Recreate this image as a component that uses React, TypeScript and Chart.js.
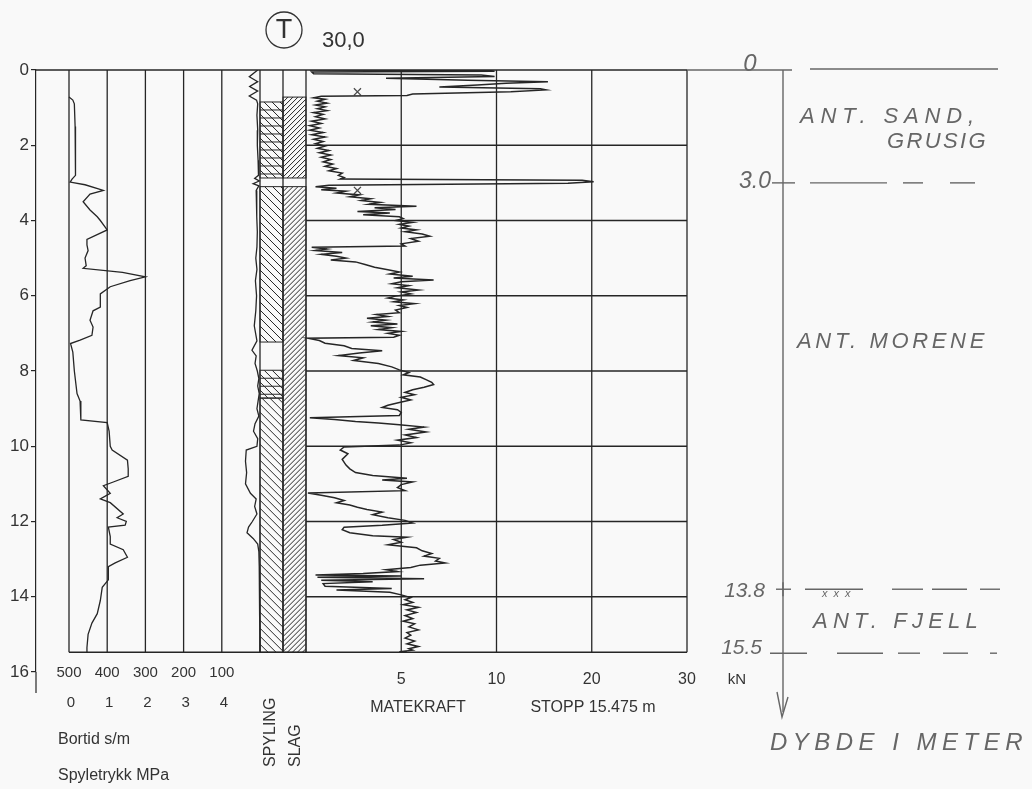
import React, { useEffect, useRef } from 'react';
import { Chart, registerables } from 'chart.js';

Chart.register(...registerables);

// ---------------- data ----------------
const depthTicks = [0, 2, 4, 6, 8, 10, 12, 14, 16];
const stopDepth = 15.475;
const spyTicks = [0, 1, 2, 3, 4];
const borTicks = [500, 400, 300, 200, 100];
const matTicks = [5, 10, 20, 30];
const matGridDepths = [2, 4, 6, 8, 10, 12, 14];

// Spyletrykk (MPa) vs depth (m)
const spyDepth = [
  0.72, 0.8, 0.9, 1.5, 2.2, 2.8, 2.9, 2.98, 3.05, 3.2,
  3.3, 3.5, 3.72, 3.9, 4.0, 4.25, 4.5, 4.65, 4.8, 5.0,
  5.2, 5.27, 5.38, 5.5, 5.6, 5.76, 5.95, 6.3, 6.4, 6.65,
  6.83, 7.05, 7.18, 7.27, 7.5, 8.0, 8.6, 8.8, 9.3, 9.37,
  9.6, 10.0, 10.1, 10.37, 10.6, 10.8, 10.95, 11.05, 11.25, 11.4,
  11.5, 11.8, 11.9, 12.0, 12.1, 12.15, 12.4, 12.6, 12.75, 12.95,
  13.1, 13.2, 13.55, 13.75, 14.1, 14.45, 14.7, 15.0, 15.35, 15.475,
];
const spyPressure = [
  0.0, 0.1, 0.14, 0.16, 0.18, 0.16, 0.08, 0.03, 0.42, 0.9,
  0.55, 0.37, 0.55, 0.74, 0.82, 1.0, 0.47, 0.47, 0.5, 0.42,
  0.45, 0.37, 1.4, 2.0, 1.6, 1.08, 0.82, 0.82, 0.63, 0.55,
  0.63, 0.6, 0.29, 0.04, 0.1, 0.14, 0.21, 0.29, 0.31, 1.0,
  1.05, 1.08, 1.13, 1.53, 1.55, 1.55, 1.16, 0.9, 1.08, 0.82,
  1.08, 1.42, 1.26, 1.5, 1.47, 1.03, 1.08, 1.08, 1.42, 1.53,
  1.21, 1.03, 1.03, 0.87, 0.82, 0.74, 0.6, 0.5, 0.47, 0.47,
];

// Bortid (s/m) vs depth (m)
const borDepth = [
  0.0, 0.18, 0.31, 0.44, 0.56, 0.69, 0.8, 0.9, 1.2, 1.6,
  2.0, 2.4, 2.8, 2.88, 2.95, 3.02, 3.08, 3.2, 3.5, 3.9,
  4.3, 4.7, 5.0, 5.3, 5.6, 6.0, 6.4, 6.8, 7.2, 7.45,
  7.6, 7.8, 8.0, 8.2, 8.4, 8.6, 8.8, 9.0, 9.2, 9.4,
  9.6, 9.8, 10.0, 10.1, 10.4, 10.7, 11.0, 11.25, 11.4, 11.6,
  11.8, 12.0, 12.15, 12.3, 12.45, 12.6, 12.8, 13.2, 13.6, 14.0,
  14.5, 15.0, 15.475,
];
const borTime = [
  6, 28, 6, 27, 6, 28, 9, 6, 8, 6,
  7, 5, 4, 14, 2, 18, 3, 10, 8, 9,
  7, 8, 11, 8, 12, 9, 11, 15, 8, 21,
  10, 13, 7, 3, 6, 2, 5, 8, 3, 13,
  17, 6, 8, 36, 38, 35, 38, 25, 10, 14,
  8, 20, 30, 34, 18, 6, 3, 2, 1, 1,
  1, 0, 0,
];

// Matekraft (kN) vs depth (m)
const matDepth = [
  0.0, 0.01, 0.03, 0.05, 0.1, 0.13, 0.17, 0.22, 0.27, 0.31,
  0.35, 0.4, 0.45, 0.5, 0.53, 0.58, 0.64, 0.68, 0.7, 0.74,
  0.78, 0.83, 0.88, 0.93, 0.98, 1.03, 1.08, 1.13, 1.18, 1.24,
  1.3, 1.36, 1.42, 1.48, 1.54, 1.6, 1.66, 1.72, 1.78, 1.84,
  1.9, 1.96, 2.02, 2.08, 2.14, 2.2, 2.26, 2.32, 2.38, 2.44,
  2.5, 2.56, 2.62, 2.68, 2.74, 2.8, 2.86, 2.9, 2.93, 2.97,
  3.01, 3.06, 3.1, 3.14, 3.18, 3.22, 3.27, 3.32, 3.37, 3.42,
  3.47, 3.52, 3.57, 3.62, 3.66, 3.71, 3.76, 3.8, 3.85, 3.9,
  3.95, 4.0, 4.05, 4.1, 4.15, 4.2, 4.25, 4.3, 4.36, 4.42,
  4.48, 4.55, 4.62, 4.68, 4.71, 4.76, 4.8, 4.85, 4.9, 4.95,
  5.0, 5.05, 5.1, 5.17, 5.24, 5.31, 5.37, 5.42, 5.48, 5.53,
  5.58, 5.63, 5.68, 5.73, 5.79, 5.85, 5.9, 5.95, 6.01, 6.06,
  6.11, 6.16, 6.21, 6.26, 6.31, 6.38, 6.45, 6.5, 6.55, 6.6,
  6.65, 6.7, 6.75, 6.8, 6.85, 6.9, 6.95, 7.0, 7.05, 7.1,
  7.13, 7.19, 7.26, 7.33, 7.4, 7.46, 7.52, 7.59, 7.65, 7.72,
  7.8, 7.89, 7.97, 8.04, 8.1, 8.16, 8.23, 8.3, 8.36, 8.43,
  8.5, 8.57, 8.63, 8.7, 8.77, 8.84, 8.91, 8.97, 9.03, 9.1,
  9.18, 9.24, 9.29, 9.34, 9.38, 9.43, 9.49, 9.55, 9.62, 9.7,
  9.77, 9.84, 9.91, 9.97, 10.02, 10.1, 10.2, 10.35, 10.5, 10.6,
  10.7, 10.78, 10.85, 10.9, 10.95, 11.02, 11.1, 11.18, 11.24, 11.3,
  11.37, 11.44, 11.5, 11.56, 11.62, 11.68, 11.75, 11.82, 11.9, 11.97,
  12.04, 12.1, 12.15, 12.22, 12.3, 12.38, 12.42, 12.48, 12.55, 12.62,
  12.7, 12.78, 12.85, 12.92, 12.98, 13.05, 13.1, 13.16, 13.22, 13.28,
  13.33, 13.38, 13.42, 13.45, 13.48, 13.52, 13.56, 13.6, 13.65, 13.72,
  13.78, 13.82, 13.88, 13.95, 14.02, 14.08, 14.15, 14.21, 14.28, 14.35,
  14.42, 14.5, 14.58, 14.65, 14.72, 14.8, 14.88, 14.95, 15.02, 15.1,
  15.18, 15.25, 15.32, 15.38, 15.42, 15.46, 15.475,
];
const matForce = [
  0.2, 9.6, 9.9, 0.3, 0.4, 9.2, 9.9, 4.2, 8.5, 15.4,
  11.0, 9.0, 7.0, 14.6, 15.2, 11.5, 5.6, 5.3, 0.8, 0.4,
  1.0, 0.6, 1.1, 0.5, 1.0, 0.6, 1.1, 0.4, 0.9, 0.5,
  1.0, 0.3, 0.8, 0.2, 0.7, 0.2, 0.9, 0.3, 1.0, 0.4,
  0.9, 0.5, 1.0, 0.6, 1.2, 0.7, 1.3, 0.8, 1.3, 0.9,
  1.4, 1.0, 1.6, 1.2, 1.9, 1.7, 2.0, 1.8, 19.0, 20.2,
  17.5, 1.2, 0.5, 1.6, 0.8, 2.1, 1.6, 2.8, 2.3, 3.4,
  2.9, 3.9, 3.3, 5.8, 3.6, 4.7, 2.7, 4.4, 3.0, 4.9,
  5.1, 4.7, 5.6, 4.9, 5.4, 5.0, 5.8, 5.2, 6.1, 6.5,
  5.5, 5.9, 5.0, 5.2, 0.3, 1.1, 0.5, 1.9, 0.8, 1.6,
  2.1, 1.3, 2.6, 3.1, 3.6, 4.3, 4.9, 4.4, 5.6, 4.6,
  6.7, 5.0, 4.5, 5.4, 4.8, 5.9, 5.0, 5.5, 4.7, 4.3,
  5.1, 4.6, 5.7, 4.9, 5.3, 4.7, 4.9, 3.7, 4.3, 3.2,
  4.2, 3.5, 4.8, 3.4, 4.5, 3.8, 5.0, 4.3, 4.9, 4.6,
  0.1, 0.7, 1.0, 2.0, 2.4, 4.0, 2.8, 1.7, 3.0, 2.5,
  3.8, 4.5, 4.9, 5.4, 5.1, 6.0, 6.3, 6.6, 6.7, 6.2,
  5.6, 5.2, 5.7, 5.0, 5.5, 4.9, 4.3, 4.0, 4.8, 5.0,
  4.9, 0.2, 1.5, 2.6, 3.8, 4.9, 6.2, 5.4, 6.3, 5.2,
  5.8, 4.8, 5.5, 4.9, 2.0, 1.8, 2.2, 1.9, 2.1, 2.3,
  2.6, 3.5, 5.3, 4.0, 5.6, 5.0, 4.8, 5.2, 0.1, 0.8,
  1.5, 2.0, 1.6, 2.3, 2.7, 3.2, 4.0, 3.5, 4.3, 5.2,
  5.6, 4.0, 2.0, 1.9, 2.3, 3.5, 5.3, 4.6, 5.0, 4.3,
  5.8, 6.1, 6.6, 6.2, 7.0, 6.8, 7.3, 6.0, 5.5, 4.2,
  4.8, 3.0, 0.5, 5.0, 0.6, 6.2, 0.8, 3.5, 0.9, 1.0,
  4.5, 1.6, 4.4, 5.0, 5.5, 5.2, 5.6, 5.1, 5.9, 5.3,
  5.8, 5.2, 5.6, 5.1, 5.7, 5.4, 5.9, 5.3, 5.5, 5.2,
  5.7, 5.3, 5.9, 5.4, 5.6, 4.9, 5.3,
];

// "X" marks on the Matekraft curve
const markDepth = [0.58, 3.2];
const markForce = [2.7, 2.7];

// SPYLING / SLAG column intervals (depth from, to)
const spylingCross = [[0.85, 2.87], [7.98, 8.72]];
const spylingDiag = [[3.1, 7.23], [8.72, stopDepth]];
const slagDiag = [[0.72, 2.87], [3.1, stopDepth]];

// ---------------- layout / style ----------------
const W = 1032;
const H = 789;
const AREA_LEFT = 36;
const AREA_RIGHT = 687;
const AREA_TOP = 70;
const AREA_BOTTOM = 672;
const INK = '#262626';
const TXT = '#333333';
const HW = '#666666';
const BG = '#f9f9f9';
const FONT = '"Liberation Sans", Arial, sans-serif';

// Matekraft axis: linear 0-10 kN, then half scale 10-30 kN
const toDisp = (v: number) => (v <= 10 ? v : 10 + (v - 10) / 2);

const rangeFor = (pxAtZero: number, pxPerUnit: number) => ({
  min: (AREA_LEFT - pxAtZero) / pxPerUnit,
  max: (AREA_RIGHT - pxAtZero) / pxPerUnit,
});
const spyRange = rangeFor(69, 38.2);
const matRange = rangeFor(306, 19.05);
const colRange = rangeFor(260, 23);
const borRange = { min: (260 - AREA_RIGHT) / 0.382, max: (260 - AREA_LEFT) / 0.382 };

function hatch(ctx: any, x0: number, x1: number, ya: number, yb: number, dir: string, step: number, horiz: number) {
  ctx.save();
  ctx.beginPath();
  ctx.rect(x0, ya, x1 - x0, yb - ya);
  ctx.clip();
  ctx.beginPath();
  const h = yb - ya;
  const w = x1 - x0;
  for (let k = -h - step; k <= w + h + step; k += step) {
    if (dir === 'back') {
      ctx.moveTo(x0 + k, ya);
      ctx.lineTo(x0 + k + h, yb);
    } else {
      ctx.moveTo(x0 + k, yb);
      ctx.lineTo(x0 + k + h, ya);
    }
  }
  if (horiz > 0) {
    for (let yy = ya + horiz; yy < yb; yy += horiz) {
      ctx.moveTo(x0, yy);
      ctx.lineTo(x1, yy);
    }
  }
  ctx.stroke();
  ctx.restore();
  ctx.strokeRect(x0, ya, x1 - x0, yb - ya);
}

const decor = {
  id: 'decor',
  beforeDraw(chart: any) {
    const { ctx } = chart;
    ctx.save();
    ctx.fillStyle = BG;
    ctx.fillRect(0, 0, chart.width, chart.height);
    ctx.restore();
  },
  beforeDatasetsDraw(chart: any) {
    const { ctx } = chart;
    const y = chart.scales.y;
    const xs = chart.scales.xSpy;
    const xm = chart.scales.xMat;
    const xc = chart.scales.xCol;
    const y0 = y.getPixelForValue(0);
    const yS = y.getPixelForValue(stopDepth);
    ctx.save();
    ctx.strokeStyle = INK;
    ctx.lineWidth = 1.3;
    const vline = (x: number, a: number, b: number) => {
      ctx.beginPath(); ctx.moveTo(x, a); ctx.lineTo(x, b); ctx.stroke();
    };
    const hline = (yy: number, a: number, b: number) => {
      ctx.beginPath(); ctx.moveTo(a, yy); ctx.lineTo(b, yy); ctx.stroke();
    };
    spyTicks.forEach((v) => vline(xs.getPixelForValue(v), y0, yS));
    [0, 1, 2].forEach((v) => vline(xc.getPixelForValue(v), y0, yS));
    matTicks.forEach((v) => vline(xm.getPixelForValue(toDisp(v)), y0, yS));
    matGridDepths.forEach((d) =>
      hline(y.getPixelForValue(d), xm.getPixelForValue(0), xm.getPixelForValue(toDisp(30)))
    );
    hline(y0, chart.chartArea.left, xm.getPixelForValue(toDisp(30)));
    hline(yS, xs.getPixelForValue(0), xm.getPixelForValue(toDisp(30)));

    // hatched SPYLING / SLAG columns
    ctx.lineWidth = 1;
    const c0 = xc.getPixelForValue(0);
    const c1 = xc.getPixelForValue(1);
    const c2 = xc.getPixelForValue(2);
    spylingCross.forEach(([a, b]) => hatch(ctx, c0, c1, y.getPixelForValue(a), y.getPixelForValue(b), 'back', 8, 8));
    spylingDiag.forEach(([a, b]) => hatch(ctx, c0, c1, y.getPixelForValue(a), y.getPixelForValue(b), 'back', 8, 0));
    slagDiag.forEach(([a, b]) => hatch(ctx, c1, c2, y.getPixelForValue(a), y.getPixelForValue(b), 'fwd', 5, 0));
    ctx.restore();
  },
  afterDraw(chart: any) {
    const { ctx } = chart;
    const y = chart.scales.y;
    const xs = chart.scales.xSpy;
    const xb = chart.scales.xBor;
    const xm = chart.scales.xMat;
    const xc = chart.scales.xCol;
    ctx.save();
    const text = (s: string, x: number, yy: number, size: number, align = 'center', color = TXT, style = '') => {
      ctx.font = `${style}${size}px ${FONT}`;
      ctx.fillStyle = color;
      ctx.textAlign = align;
      ctx.textBaseline = 'middle';
      ctx.fillText(s, x, yy);
    };
    // extend depth axis line a little below 16
    ctx.strokeStyle = INK;
    ctx.lineWidth = 1.2;
    ctx.beginPath();
    ctx.moveTo(chart.chartArea.left, y.getPixelForValue(16));
    ctx.lineTo(chart.chartArea.left, y.getPixelForValue(16) + 21);
    ctx.stroke();

    // bottom tick labels
    borTicks.forEach((v) => text(String(v), xb.getPixelForValue(v), 673, 15));
    spyTicks.forEach((v) => text(String(v), xs.getPixelForValue(v) + 2, 703, 15));
    matTicks.forEach((v) => text(String(v), xm.getPixelForValue(toDisp(v)), 680, 16));
    text('kN', xm.getPixelForValue(toDisp(30)) + 50, 680, 15);
    text('MATEKRAFT', 418, 708, 16);
    text('STOPP 15.475 m', 593, 708, 16);
    text('Bortid s/m', 58, 740, 16, 'left');
    text('Spyletrykk MPa', 58, 776, 16, 'left');

    // vertical column titles
    const colTitle = (s: string, cx: number) => {
      ctx.save();
      ctx.translate(cx, 767);
      ctx.rotate(-Math.PI / 2);
      ctx.font = `16px ${FONT}`;
      ctx.fillStyle = TXT;
      ctx.textAlign = 'left';
      ctx.textBaseline = 'middle';
      ctx.fillText(s, 0, 0);
      ctx.restore();
    };
    colTitle('SPYLING', (xc.getPixelForValue(0) + xc.getPixelForValue(1)) / 2 - 1);
    colTitle('SLAG', (xc.getPixelForValue(1) + xc.getPixelForValue(2)) / 2 + 1);

    // top symbol
    const cx = xc.getPixelForValue(1);
    ctx.strokeStyle = TXT;
    ctx.lineWidth = 1.3;
    ctx.beginPath();
    ctx.arc(cx + 1, 30, 18, 0, Math.PI * 2);
    ctx.stroke();
    text('T', cx + 1, 31, 27);
    text('30,0', 322, 41, 22, 'left');

    // handwritten annotations
    ctx.strokeStyle = HW;
    ctx.lineWidth = 1.4;
    const line = (x1: number, y1: number, x2: number, y2: number) => {
      ctx.beginPath(); ctx.moveTo(x1, y1); ctx.lineTo(x2, y2); ctx.stroke();
    };
    const ax = 783;
    const y0 = y.getPixelForValue(0);
    line(AREA_RIGHT, y0, 792, y0);
    line(810, y0 - 1, 998, y0 - 1);
    line(ax, y0, ax, 712);
    ctx.beginPath();
    ctx.moveTo(ax - 6, 692);
    ctx.lineTo(ax - 1, 717);
    ctx.lineTo(ax + 5, 697);
    ctx.stroke();

    const hw = (s: string, x: number, yy: number, size: number, target: number, align = 'left') => {
      ctx.font = `italic ${size}px ${FONT}`;
      ctx.fillStyle = HW;
      ctx.textBaseline = 'middle';
      ctx.textAlign = align;
      (ctx as any).letterSpacing = '0px';
      const w = ctx.measureText(s).width;
      const ls = target > w ? (target - w) / s.length : 0;
      (ctx as any).letterSpacing = `${ls}px`;
      ctx.fillText(s, x, yy);
      (ctx as any).letterSpacing = '0px';
    };
    const dashes = (yy: number, segs: number[][]) => segs.forEach(([a, b]) => line(a, yy, b, yy));

    hw('0', 750, y0 - 6, 24, 0, 'center');
    const y3 = y.getPixelForValue(3.0);
    hw('3.0', 771, y3 - 1, 23, 0, 'right');
    line(772, y3, 795, y3);
    dashes(y3, [[810, 887], [903, 923], [950, 975]]);
    hw('ANT. SAND,', 800, 117, 22, 180);
    hw('GRUSIG', 887, 142, 22, 101);
    hw('ANT. MORENE', 797, 342, 22, 191);

    const y138 = y.getPixelForValue(13.8);
    hw('13.8', 765, y138 + 2, 21, 0, 'right');
    line(776, y138, 791, y138);
    line(ax, y138 - 7, ax, y138 + 7);
    dashes(y138, [[805, 863], [892, 923], [932, 967], [980, 1000]]);
    hw('x x x', 822, y138 + 5, 11, 30);
    hw('ANT. FJELL', 813, 622, 22, 170);

    const y155 = y.getPixelForValue(15.5);
    hw('15.5', 762, y155 - 5, 21, 0, 'right');
    line(770, y155, 807, y155);
    dashes(y155, [[837, 883], [898, 920], [943, 968], [990, 997]]);
    hw('DYBDE I METER', 770, 743, 24, 258);
    ctx.restore();
  },
};

export default function App() {
  const ref = useRef<HTMLCanvasElement>(null);

  useEffect(() => {
    document.body.style.margin = '0';
    const canvas = ref.current;
    if (!canvas) return;
    Chart.defaults.font.family = FONT;

    const lineStyle = {
      showLine: true,
      pointRadius: 0,
      borderColor: INK,
      backgroundColor: INK,
      borderWidth: 1.3,
      tension: 0,
      yAxisID: 'y',
    };

    const chart = new Chart(canvas, {
      type: 'scatter',
      data: {
        datasets: [
          {
            ...lineStyle,
            label: 'Spyletrykk MPa',
            xAxisID: 'xSpy',
            data: spyDepth.map((d, i) => ({ x: spyPressure[i], y: d })),
          },
          {
            ...lineStyle,
            label: 'Bortid s/m',
            xAxisID: 'xBor',
            data: borDepth.map((d, i) => ({ x: borTime[i], y: d })),
          },
          {
            ...lineStyle,
            label: 'Matekraft kN',
            xAxisID: 'xMat',
            borderWidth: 1.5,
            data: matDepth.map((d, i) => ({ x: toDisp(matForce[i]), y: d })),
          },
          {
            label: 'X',
            xAxisID: 'xMat',
            yAxisID: 'y',
            showLine: false,
            pointStyle: 'crossRot',
            pointRadius: 5,
            borderWidth: 1.3,
            borderColor: '#4a4a4a',
            data: markDepth.map((d, i) => ({ x: toDisp(markForce[i]), y: d })),
          },
        ],
      },
      options: {
        animation: false,
        responsive: false,
        devicePixelRatio: 1,
        layout: {
          padding: {
            left: 0,
            top: AREA_TOP,
            right: W - AREA_RIGHT,
            bottom: H - AREA_BOTTOM,
          },
        },
        plugins: {
          legend: { display: false },
          tooltip: { enabled: false },
        },
        scales: {
          y: {
            type: 'linear',
            axis: 'y',
            position: 'left',
            reverse: true,
            min: 0,
            max: 16,
            afterFit: (scale: any) => {
              scale.width = AREA_LEFT;
            },
            afterBuildTicks: (scale: any) => {
              scale.ticks = depthTicks.map((v) => ({ value: v }));
            },
            ticks: {
              padding: 2,
              color: TXT,
              font: { size: 17 },
            },
            grid: {
              drawOnChartArea: false,
              tickLength: 5,
              color: INK,
              lineWidth: 1.2,
            },
            border: { display: true, color: INK, width: 1.2 },
          },
          xSpy: { type: 'linear', axis: 'x', position: 'bottom', display: false, min: spyRange.min, max: spyRange.max },
          xBor: { type: 'linear', axis: 'x', position: 'bottom', display: false, reverse: true, min: borRange.min, max: borRange.max },
          xMat: { type: 'linear', axis: 'x', position: 'bottom', display: false, min: matRange.min, max: matRange.max },
          xCol: { type: 'linear', axis: 'x', position: 'bottom', display: false, min: colRange.min, max: colRange.max },
        },
      } as any,
      plugins: [decor as any],
    });

    return () => chart.destroy();
  }, []);

  return (
    <div style={{ position: 'absolute', left: 0, top: 0, width: W, height: H }}>
      <canvas ref={ref} width={W} height={H} style={{ display: 'block', width: W, height: H }} />
    </div>
  );
}
